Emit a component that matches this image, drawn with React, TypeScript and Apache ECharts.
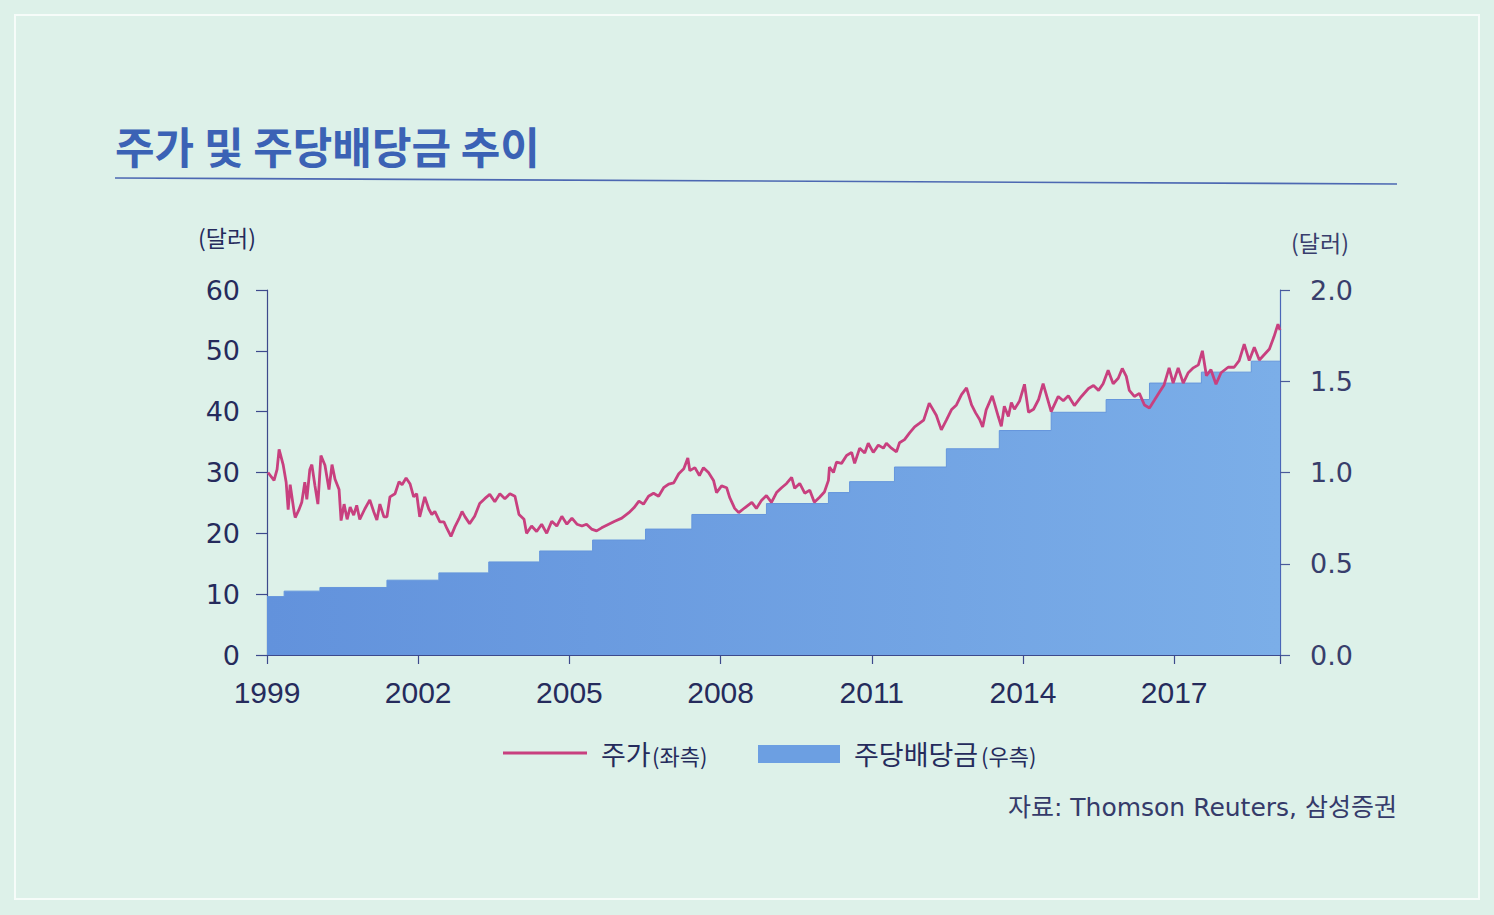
import React, { useEffect, useRef } from "react";
import * as echarts from "echarts";

const TITLE = "주가 및 주당배당금 추이";
const UNIT = "(달러)";
const SOURCE = "자료: Thomson Reuters, 삼성증권";
const LEGEND_PRICE = ["주가", "(좌측)"];
const LEGEND_DIV = ["주당배당금", "(우측)"];

const X_START = 1999;
const X_END = 2019.1;
const X_STEP = 3;
const LEFT_MAX = 60;
const LEFT_STEP = 10;
const RIGHT_MAX = 2;
const RIGHT_STEP = 0.5;

// 주가 (left axis)
const priceYear = [
  1999.02, 1999.14, 1999.2, 1999.24, 1999.32, 1999.38, 1999.42, 1999.46, 1999.54, 1999.56, 1999.63, 1999.69, 1999.75, 1999.79, 1999.85, 1999.89, 1999.95,
  2000.01, 2000.07, 2000.15, 2000.23, 2000.29, 2000.35, 2000.43, 2000.47, 2000.53, 2000.59, 2000.65, 2000.72, 2000.78, 2000.84, 2000.94,
  2001.04, 2001.12, 2001.18, 2001.24, 2001.32, 2001.38, 2001.44, 2001.54, 2001.62, 2001.68, 2001.76, 2001.84, 2001.91, 2001.97,
  2002.03, 2002.13, 2002.21, 2002.27, 2002.33, 2002.43, 2002.51, 2002.57, 2002.65, 2002.73, 2002.81, 2002.87, 2002.93,
  2003.02, 2003.12, 2003.22, 2003.32, 2003.42, 2003.52, 2003.62, 2003.72, 2003.82, 2003.92,
  2004.0, 2004.1, 2004.15, 2004.25, 2004.35, 2004.45, 2004.55, 2004.65, 2004.75, 2004.85, 2004.95,
  2005.05, 2005.15, 2005.25, 2005.34, 2005.44, 2005.54, 2005.64, 2005.78, 2005.9,
  2006.04, 2006.18, 2006.28, 2006.38, 2006.47, 2006.57, 2006.67, 2006.77, 2006.87, 2006.97,
  2007.07, 2007.17, 2007.27, 2007.35, 2007.39, 2007.49, 2007.58, 2007.66, 2007.76, 2007.86, 2007.92,
  2008.02, 2008.12, 2008.18, 2008.28, 2008.36, 2008.48, 2008.62, 2008.71, 2008.81, 2008.91,
  2009.01, 2009.11, 2009.21, 2009.31, 2009.41, 2009.47, 2009.57, 2009.67, 2009.77, 2009.86, 2009.96,
  2010.06, 2010.14, 2010.16, 2010.24, 2010.3, 2010.4, 2010.5, 2010.6, 2010.66, 2010.76, 2010.86, 2010.93,
  2011.03, 2011.13, 2011.23, 2011.29, 2011.39, 2011.49, 2011.55, 2011.65, 2011.75, 2011.85, 2011.95,
  2012.03, 2012.14, 2012.28, 2012.38, 2012.48, 2012.58, 2012.68, 2012.78, 2012.88, 2012.98,
  2013.06, 2013.14, 2013.2, 2013.27, 2013.39, 2013.43, 2013.51, 2013.57, 2013.63, 2013.71, 2013.77, 2013.83, 2013.93,
  2014.03, 2014.11, 2014.21, 2014.31, 2014.4, 2014.46, 2014.56, 2014.7, 2014.8, 2014.9,
  2015.02, 2015.16, 2015.3, 2015.4, 2015.5, 2015.59, 2015.69, 2015.79, 2015.89, 2015.97,
  2016.05, 2016.11, 2016.21, 2016.31, 2016.41, 2016.51, 2016.61, 2016.7, 2016.8, 2016.9, 2016.98,
  2017.08, 2017.18, 2017.28, 2017.38, 2017.48, 2017.56, 2017.64, 2017.73, 2017.83, 2017.93,
  2018.07, 2018.19, 2018.29, 2018.39, 2018.49, 2018.59, 2018.69, 2018.79, 2018.89, 2018.98,
  2019.06, 2019.1,
];
const price = [
  30.0, 28.7, 30.5, 33.8, 31.3, 28.4, 23.9, 28.0, 23.4, 22.6, 23.8, 25.1, 28.4, 25.6, 30.5, 31.3, 27.9,
  24.8, 32.8, 31.2, 27.2, 31.3, 28.9, 27.2, 22.1, 24.8, 22.3, 24.3, 23.0, 24.6, 22.3, 24.0,
  25.5, 23.5, 22.2, 24.8, 22.7, 22.7, 26.0, 26.5, 28.5, 28.0, 29.1, 28.1, 26.0, 26.5,
  22.7, 26.0, 24.0, 23.1, 23.6, 21.9, 21.9, 20.8, 19.5, 21.1, 22.4, 23.6, 22.7,
  21.6, 22.8, 24.9, 25.7, 26.4, 25.2, 26.5, 25.7, 26.5, 26.1,
  23.1, 22.3, 20.0, 21.2, 20.3, 21.5, 20.0, 22.0, 21.2, 22.8, 21.5,
  22.5, 21.5, 21.2, 21.5, 20.7, 20.4, 20.9, 21.5, 22.0,
  22.5, 23.4, 24.2, 25.3, 24.8, 26.1, 26.6, 26.1, 27.5, 28.1,
  28.3, 29.8, 30.6, 32.4, 30.3, 30.8, 29.5, 30.8, 30.0, 28.7, 26.7,
  27.8, 27.5, 25.9, 24.1, 23.4, 24.2, 25.1, 24.1, 25.4, 26.2,
  25.1, 26.7, 27.5, 28.2, 29.2, 27.4, 28.2, 26.6, 27.1, 25.1, 25.9,
  26.8, 28.7, 30.9, 30.0, 31.7, 31.5, 32.8, 33.3, 31.5, 34.0, 33.2, 34.8,
  33.3, 34.5, 34.0, 34.8, 34.0, 33.4, 34.9, 35.4, 36.5, 37.5, 38.1,
  38.6, 41.4, 39.4, 37.0, 38.6, 40.3, 41.1, 42.8, 43.9, 41.1,
  39.8, 38.7, 37.5, 40.3, 42.6, 41.5, 39.2, 37.6, 40.9, 39.2, 41.5, 40.4, 41.7,
  44.5, 39.9, 40.4, 42.0, 44.6, 42.9, 40.0, 42.5, 41.8, 42.6,
  41.0, 42.5, 43.8, 44.3, 43.5, 44.6, 46.8, 44.6, 45.5, 47.1,
  45.8, 43.5, 42.5, 43.0, 41.1, 40.6, 41.9, 43.1, 44.4, 47.2, 44.7,
  47.2, 44.7, 46.4, 47.2, 47.7, 50.0, 45.9, 46.9, 44.5, 46.4,
  47.3, 47.3, 48.4, 51.1, 48.4, 50.6, 48.5, 49.4, 50.3, 52.3,
  54.4, 53.4,
];

// 주당배당금 (right axis): level starting at each year value
const dividendYear = [
  1999.0, 1999.34, 2000.05, 2001.38, 2002.41, 2003.4, 2004.41, 2005.46, 2006.51, 2007.43, 2008.91,
  2010.14, 2010.56, 2011.45, 2012.48, 2013.53, 2014.56, 2015.65, 2016.51, 2017.54, 2018.53, 2019.1,
];
const dividend = [
  0.32, 0.35, 0.37, 0.41, 0.45, 0.51, 0.57, 0.63, 0.69, 0.77, 0.83,
  0.89, 0.95, 1.03, 1.13, 1.23, 1.33, 1.4, 1.49, 1.55, 1.61, 1.61,
];

const BG = "#ddf1e9";
const NAVY = "#252b5c";
const KR = "'Noto Sans CJK KR', 'Noto Sans', sans-serif";
const MIXED = "'DejaVu Sans', 'Noto Sans CJK KR', sans-serif";

export default function App() {
  const ref = useRef<HTMLDivElement>(null);

  useEffect(() => {
    if (!ref.current) return;
    const chart = echarts.init(ref.current, null, { renderer: "svg" });

    const priceData = priceYear.map((y, i) => [y - X_START, price[i]]);
    const divData = dividendYear.map((y, i) => [y - X_START, dividend[i]]);

    const txt = (
      x: number,
      y: number,
      text: string,
      size: number,
      fill: string,
      align: string = "left",
      weight: string = "normal",
      family: string = KR
    ) => ({
      type: "text",
      x,
      y,
      silent: true,
      style: {
        text,
        fill,
        fontSize: size,
        fontFamily: family,
        fontWeight: weight,
        align,
        textAlign: align,
        verticalAlign: "middle",
        textVerticalAlign: "middle",
      },
    });

    chart.setOption({
      animation: false,
      backgroundColor: BG,
      grid: { left: 267, right: 214, top: 290, bottom: 260, containLabel: false },
      xAxis: {
        type: "value",
        min: 0,
        max: X_END - X_START,
        interval: X_STEP,
        axisLine: { show: true, lineStyle: { color: "#3d4a8c", width: 1.2 } },
        axisTick: { show: true, length: 9, lineStyle: { color: "#3d4a8c", width: 1.2 } },
        axisLabel: {
          margin: 22,
          fontSize: 30,
          fontFamily: "'Liberation Sans', Arial, sans-serif",
          color: NAVY,
          formatter: (v: number) => {
            const k = v / X_STEP;
            return Math.abs(k - Math.round(k)) < 1e-6 ? String(X_START + Math.round(v)) : "";
          },
        },
        splitLine: { show: false },
      },
      yAxis: [
        {
          type: "value",
          position: "left",
          min: 0,
          max: LEFT_MAX,
          interval: LEFT_STEP,
          axisLine: { show: true, lineStyle: { color: "#3d4a8c", width: 1.2 } },
          axisTick: { show: true, length: 11, lineStyle: { color: "#3d4a8c", width: 1.2 } },
          axisLabel: {
            margin: 27,
            fontSize: 27,
            fontFamily: "'DejaVu Sans', sans-serif",
            color: NAVY,
          },
          splitLine: { show: false },
        },
        {
          type: "value",
          position: "right",
          min: 0,
          max: RIGHT_MAX,
          interval: RIGHT_STEP,
          axisLine: { show: true, lineStyle: { color: "#4a66b8", width: 1.2 } },
          axisTick: { show: true, length: 10, lineStyle: { color: "#4a5a9a", width: 1.2 } },
          axisLabel: {
            margin: 30,
            fontSize: 27,
            fontFamily: "'DejaVu Sans', sans-serif",
            color: "#383e6c",
            formatter: (v: number) => v.toFixed(1),
          },
          splitLine: { show: false },
        },
      ],
      series: [
        {
          type: "line",
          name: "주당배당금",
          yAxisIndex: 1,
          data: divData,
          step: "end",
          symbol: "none",
          lineStyle: { width: 1, color: "#6596dc" },
          areaStyle: {
            opacity: 1,
            color: new echarts.graphic.LinearGradient(0, 0, 1, 0, [
              { offset: 0, color: "#6292dc" },
              { offset: 1, color: "#7baee8" },
            ]),
          },
          z: 1,
        },
        {
          type: "line",
          name: "주가",
          yAxisIndex: 0,
          data: priceData,
          symbol: "none",
          lineStyle: { width: 2.8, color: "#c8407f" },
          z: 3,
        },
      ],
      graphic: [
        {
          type: "rect",
          silent: true,
          shape: { x: 15, y: 15, width: 1464, height: 884 },
          style: { fill: "none", stroke: "#f6fcf9", lineWidth: 2 },
        },
        txt(115, 145, TITLE, 43, "#3b62b5", "left", "bold"),
        {
          type: "line",
          silent: true,
          shape: { x1: 115, y1: 178, x2: 1397, y2: 184 },
          style: { stroke: "#4c68b2", lineWidth: 1.6 },
        },
        txt(227, 237, UNIT, 23, NAVY, "center"),
        txt(1320, 242, UNIT, 23, "#383e6c", "center"),
        {
          type: "line",
          silent: true,
          shape: { x1: 503, y1: 753, x2: 587, y2: 753 },
          style: { stroke: "#c8407f", lineWidth: 3 },
        },
        txt(601, 753, LEGEND_PRICE[0], 27, NAVY),
        txt(652, 755, LEGEND_PRICE[1], 22, NAVY),
        {
          type: "rect",
          silent: true,
          shape: { x: 758, y: 745, width: 82, height: 18 },
          style: { fill: "#6c9fe2" },
        },
        txt(854, 753, LEGEND_DIV[0], 27, NAVY),
        txt(981, 755, LEGEND_DIV[1], 22, NAVY),
        txt(1397, 807, SOURCE, 25, "#353b6a", "right", "normal", MIXED),
      ],
    });

    return () => chart.dispose();
  }, []);

  return (
    <div
      ref={ref}
      style={{ position: "fixed", left: 0, top: 0, width: 1494, height: 915 }}
    />
  );
}
